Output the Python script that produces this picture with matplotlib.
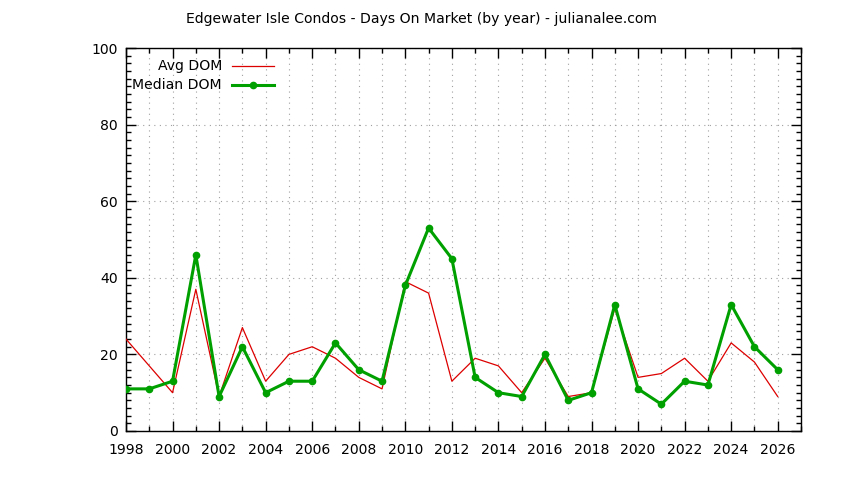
import matplotlib
matplotlib.use("Agg")
import matplotlib.pyplot as plt
from matplotlib.ticker import MultipleLocator

years = list(range(1998, 2027))
avg_dom = [24, 17, 10, 37, 9, 27, 13, 20, 22, 19, 14, 11, 39, 36, 13,
           19, 17, 10, 19, 9, 10, 32, 14, 15, 19, 13, 23, 18, 9]
median_dom = [11, 11, 13, 46, 9, 22, 10, 13, 13, 23, 16, 13, 38, 53, 45,
              14, 10, 9, 20, 8, 10, 33, 11, 7, 13, 12, 33, 22, 16]

plt.rcParams['font.family'] = ['DejaVu Sans']

fig = plt.figure(figsize=(8.44, 4.8), dpi=100)
ax = fig.add_axes([126 / 844, 49 / 480, 675 / 844, 383 / 480])

red = '#dd0000'
green = '#00a000'
fs = 10.1

ax.plot(years, avg_dom, color=red, lw=0.9, zorder=3)
ax.plot(years, median_dom, color=green, lw=2.2, marker='o', ms=4.5, zorder=4)

ax.set_xlim(1998, 2027)
ax.set_ylim(0, 100)
ax.xaxis.set_major_locator(MultipleLocator(2))
ax.xaxis.set_minor_locator(MultipleLocator(1))
ax.yaxis.set_major_locator(MultipleLocator(20))
ax.yaxis.set_minor_locator(MultipleLocator(2))

ax.tick_params(which='both', direction='in', top=True, right=True,
               labelsize=fs, width=1, color='black')
ax.tick_params(which='major', length=7)
ax.tick_params(which='minor', length=3.5)
ax.tick_params(axis='x', which='major', pad=9)
ax.tick_params(axis='y', which='major', pad=6)
ax.grid(True, which='major', axis='y', color='#a0a0a0', ls=(0, (1, 4)), lw=0.8)
ax.grid(True, which='both', axis='x', color='#a0a0a0', ls=(0, (1, 4)), lw=0.8)
for s in ax.spines.values():
    s.set_linewidth(1)

# legend (gnuplot style: text right aligned, sample on the right)
ax.text(222 / 844, 1 - 66 / 480, 'Avg DOM', transform=fig.transFigure,
        ha='right', va='center', fontsize=fs)
ax.text(222 / 844, 1 - 85 / 480, 'Median DOM', transform=fig.transFigure,
        ha='right', va='center', fontsize=fs)
ax.plot([232 / 844, 274 / 844], [1 - 66 / 480] * 2, color=red, lw=0.9,
        transform=fig.transFigure, clip_on=False)
ax.plot([232 / 844, 274 / 844], [1 - 85 / 480] * 2, color=green, lw=2.2,
        transform=fig.transFigure, clip_on=False)
ax.plot([253 / 844], [1 - 85 / 480], color=green, marker='o', ms=4.5,
        transform=fig.transFigure, clip_on=False)

fig.text(0.5, 1 - 19 / 480,
         'Edgewater Isle Condos - Days On Market (by year) - julianalee.com',
         ha='center', va='center', fontsize=fs)

fig.savefig('out.png', dpi=100)
